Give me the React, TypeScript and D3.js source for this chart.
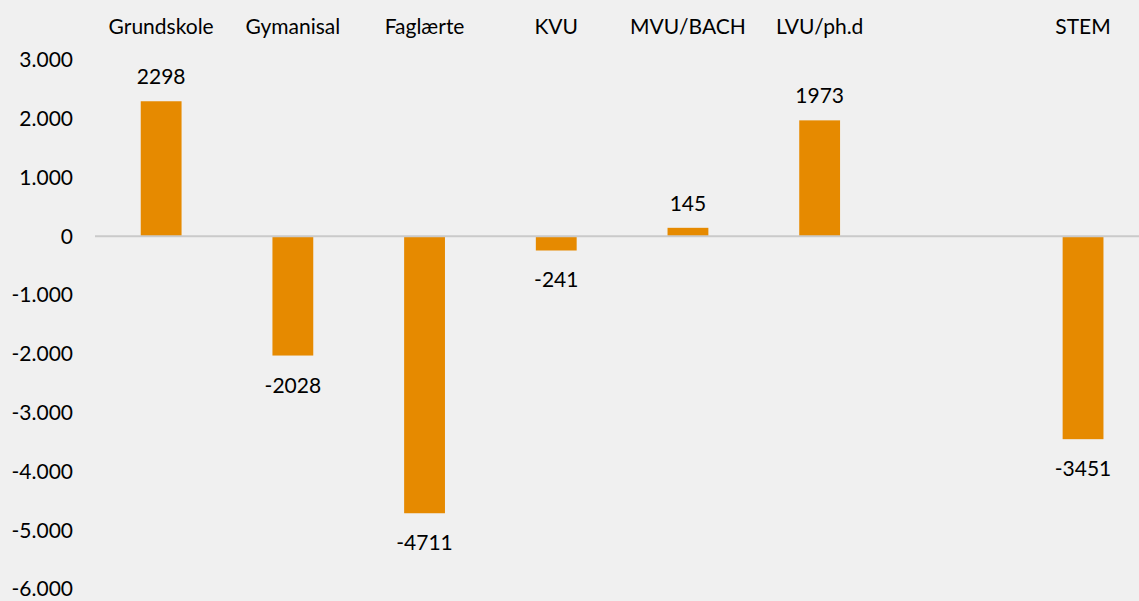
import React, { useEffect, useRef } from "react";
import * as d3 from "d3";

const categories = ["Grundskole", "Gymanisal", "Faglærte", "KVU", "MVU/BACH", "LVU/ph.d", "", "STEM"];
const values: (number | null)[] = [2298, -2028, -4711, -241, 145, 1973, null, -3451];
const yTicks = [3000, 2000, 1000, 0, -1000, -2000, -3000, -4000, -5000, -6000];

const W = 1139;
const H = 601;
const FONT = "Lato, 'Open Sans', sans-serif";
const FS = 21;

export default function App() {
  const ref = useRef<SVGSVGElement>(null);

  useEffect(() => {
    const svg = d3.select(ref.current);
    svg.selectAll("*").remove();

    const x = d3.scaleBand<string>()
      .domain(categories.map((c, i) => String(i)))
      .range([95.3, 95.3 + 131.7 * categories.length])
      .paddingInner(0.69)
      .paddingOuter(0.345);

    const y = d3.scaleLinear().domain([-6000, 3000]).range([589, 60]);

    const loc = d3.formatLocale({ decimal: ",", thousands: ".", grouping: [3], currency: ["", " kr."] });
    const fmt = loc.format(",.0f");

    svg.append("rect").attr("width", W).attr("height", H).attr("fill", "#F0F0F0");

    // y tick labels
    svg.append("g").selectAll("text").data(yTicks).join("text")
      .attr("x", 73)
      .attr("y", d => y(d))
      .attr("dy", "0.35em")
      .attr("text-anchor", "end")
      .attr("font-family", FONT)
      .attr("font-size", FS)
      .attr("fill", "#000")
      .text(d => fmt(d).replace("−", "-"));

    // category labels
    svg.append("g").selectAll("text").data(categories).join("text")
      .attr("x", (d, i) => x(String(i))! + x.bandwidth() / 2)
      .attr("y", 34)
      .attr("text-anchor", "middle")
      .attr("font-family", FONT)
      .attr("font-size", FS)
      .attr("fill", "#000")
      .text(d => d);

    const data = values.map((v, i) => ({ v, i })).filter(d => d.v !== null) as { v: number; i: number }[];

    // bars
    svg.append("g").selectAll("rect").data(data).join("rect")
      .attr("x", d => x(String(d.i))!)
      .attr("width", x.bandwidth())
      .attr("y", d => (d.v >= 0 ? y(d.v) : y(0)))
      .attr("height", d => Math.abs(y(d.v) - y(0)))
      .attr("fill", "#E68A00");

    // zero line
    svg.append("line")
      .attr("x1", 95).attr("x2", W)
      .attr("y1", y(0)).attr("y2", y(0))
      .attr("stroke", "#CACACA")
      .attr("stroke-width", 2);

    // value labels
    svg.append("g").selectAll("text").data(data).join("text")
      .attr("x", d => x(String(d.i))! + x.bandwidth() / 2)
      .attr("y", d => (d.v >= 0 ? y(d.v) - 17 : y(d.v) + 37))
      .attr("text-anchor", "middle")
      .attr("font-family", FONT)
      .attr("font-size", FS)
      .attr("fill", "#000")
      .text(d => String(d.v));
  }, []);

  return (
    <svg
      ref={ref}
      width={W}
      height={H}
      style={{ position: "absolute", left: 0, top: 0, display: "block" }}
    />
  );
}
